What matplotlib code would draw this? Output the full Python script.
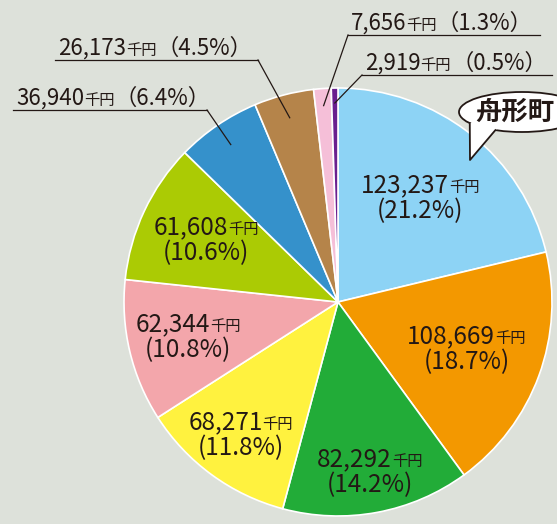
import numpy as np
import matplotlib.pyplot as plt
from matplotlib.offsetbox import TextArea, HPacker, VPacker, AnnotationBbox
from matplotlib.patches import Ellipse, Polygon

plt.rcParams['font.family'] = ['Noto Sans CJK JP', 'DejaVu Sans']

# data
values = [123237, 108669, 82292, 68271, 62344, 61608, 36940, 26173, 7656, 2919]
pcts = [21.2, 18.7, 14.2, 11.8, 10.8, 10.6, 6.4, 4.5, 1.3, 0.5]
colors = ['#8dd3f5', '#f39800', '#22ac38', '#fff23f', '#f3a6ab',
          '#abcb04', '#3591cb', '#b5844a', '#f5bfd8', '#6a1f8f']
unit = '千円'
town = '舟形町'

W, H = 557, 524
TC = '#231815'
BG = '#dde1da'

# pie placement (pixels, y up)
cx, cy, R = 338, H - 302, 214

# inner labels: radial position as fraction of radius
inner_r = [0.62, 0.64, 0.81, 0.77, 0.72, 0.68]
# outer labels: (index, point radius frac, elbow x, elbow y(img), line left, line right)
outer = [
    (6, 0.89, 207, 110, 13, 207),
    (7, 0.89, 258, 60, 55, 258),
    (8, 0.92, 348, 35, 348, 540),
    (9, 0.93, 362, 75, 362, 552),
]

fig = plt.figure(figsize=(W / 100, H / 100), dpi=100)
fig.patch.set_facecolor(BG)
ax = fig.add_axes([0, 0, 1, 1])
ax.set_facecolor(BG)

wedges, _ = ax.pie(values, colors=colors, startangle=90, counterclock=False,
                   center=(cx, cy), radius=R,
                   wedgeprops=dict(edgecolor='white', linewidth=1.2))
ax.set_xlim(0, W)
ax.set_ylim(0, H)
ax.set_aspect('equal')
ax.axis('off')


def mid_point(i, frac):
    w = wedges[i]
    a = np.deg2rad((w.theta1 + w.theta2) / 2)
    return cx + frac * R * np.cos(a), cy + frac * R * np.sin(a)


def num_line(i, fs, fs2, tail=''):
    kids = [TextArea(f'{values[i]:,}', textprops=dict(fontsize=fs, color=TC)),
            TextArea(unit, textprops=dict(fontsize=fs2, color=TC))]
    if tail:
        kids.append(TextArea(tail, textprops=dict(fontsize=fs, color=TC)))
    return HPacker(children=kids, align='baseline', pad=0, sep=0)


for i, fr in enumerate(inner_r):
    box = VPacker(children=[num_line(i, 17.5, 11),
                            TextArea(f'({pcts[i]:.1f}%)', textprops=dict(fontsize=17.5, color=TC))],
                  align='center', pad=0, sep=0)
    ab = AnnotationBbox(box, mid_point(i, fr), frameon=False, box_alignment=(0.5, 0.5))
    ax.add_artist(ab)

for i, fr, ex, ey, lx, rx in outer:
    px, py = mid_point(i, fr)
    ax.plot([px, ex], [py, H - ey], color=TC, lw=0.9)
    ax.plot([lx, rx], [H - ey, H - ey], color=TC, lw=0.9)
    box = num_line(i, 16, 11, f'（{pcts[i]:.1f}%）')
    ab = AnnotationBbox(box, (lx + 3, H - ey), frameon=False, box_alignment=(0, 0))
    ax.add_artist(ab)

# speech bubble
ecx, ecy, ea, eb = 522, H - 112, 63, 20
ax.add_patch(Ellipse((ecx, ecy), 2 * ea, 2 * eb, facecolor='white', edgecolor=TC, lw=1.3, zorder=5))
t1, t2 = np.deg2rad(146), np.deg2rad(115)
b1 = (ecx + ea * np.cos(t1), ecy - eb * np.sin(t1))
b2 = (ecx + ea * np.cos(t2), ecy - eb * np.sin(t2))
tip = (470, H - 160)
inset = lambda p: (p[0] + (ecx - p[0]) * 0.08, p[1] + (ecy - p[1]) * 0.08)
ax.add_patch(Polygon([tip, b1, inset(b1), inset(b2), b2], closed=True,
                     facecolor='white', edgecolor='none', zorder=6))
ax.plot([b1[0], tip[0], b2[0]], [b1[1], tip[1], b2[1]], color=TC, lw=1.3, zorder=7)
ax.text(515, H - 112, town, fontsize=19, fontweight='bold', color=TC,
        ha='center', va='center', zorder=8)

fig.savefig('out.png', dpi=100, facecolor=BG)
